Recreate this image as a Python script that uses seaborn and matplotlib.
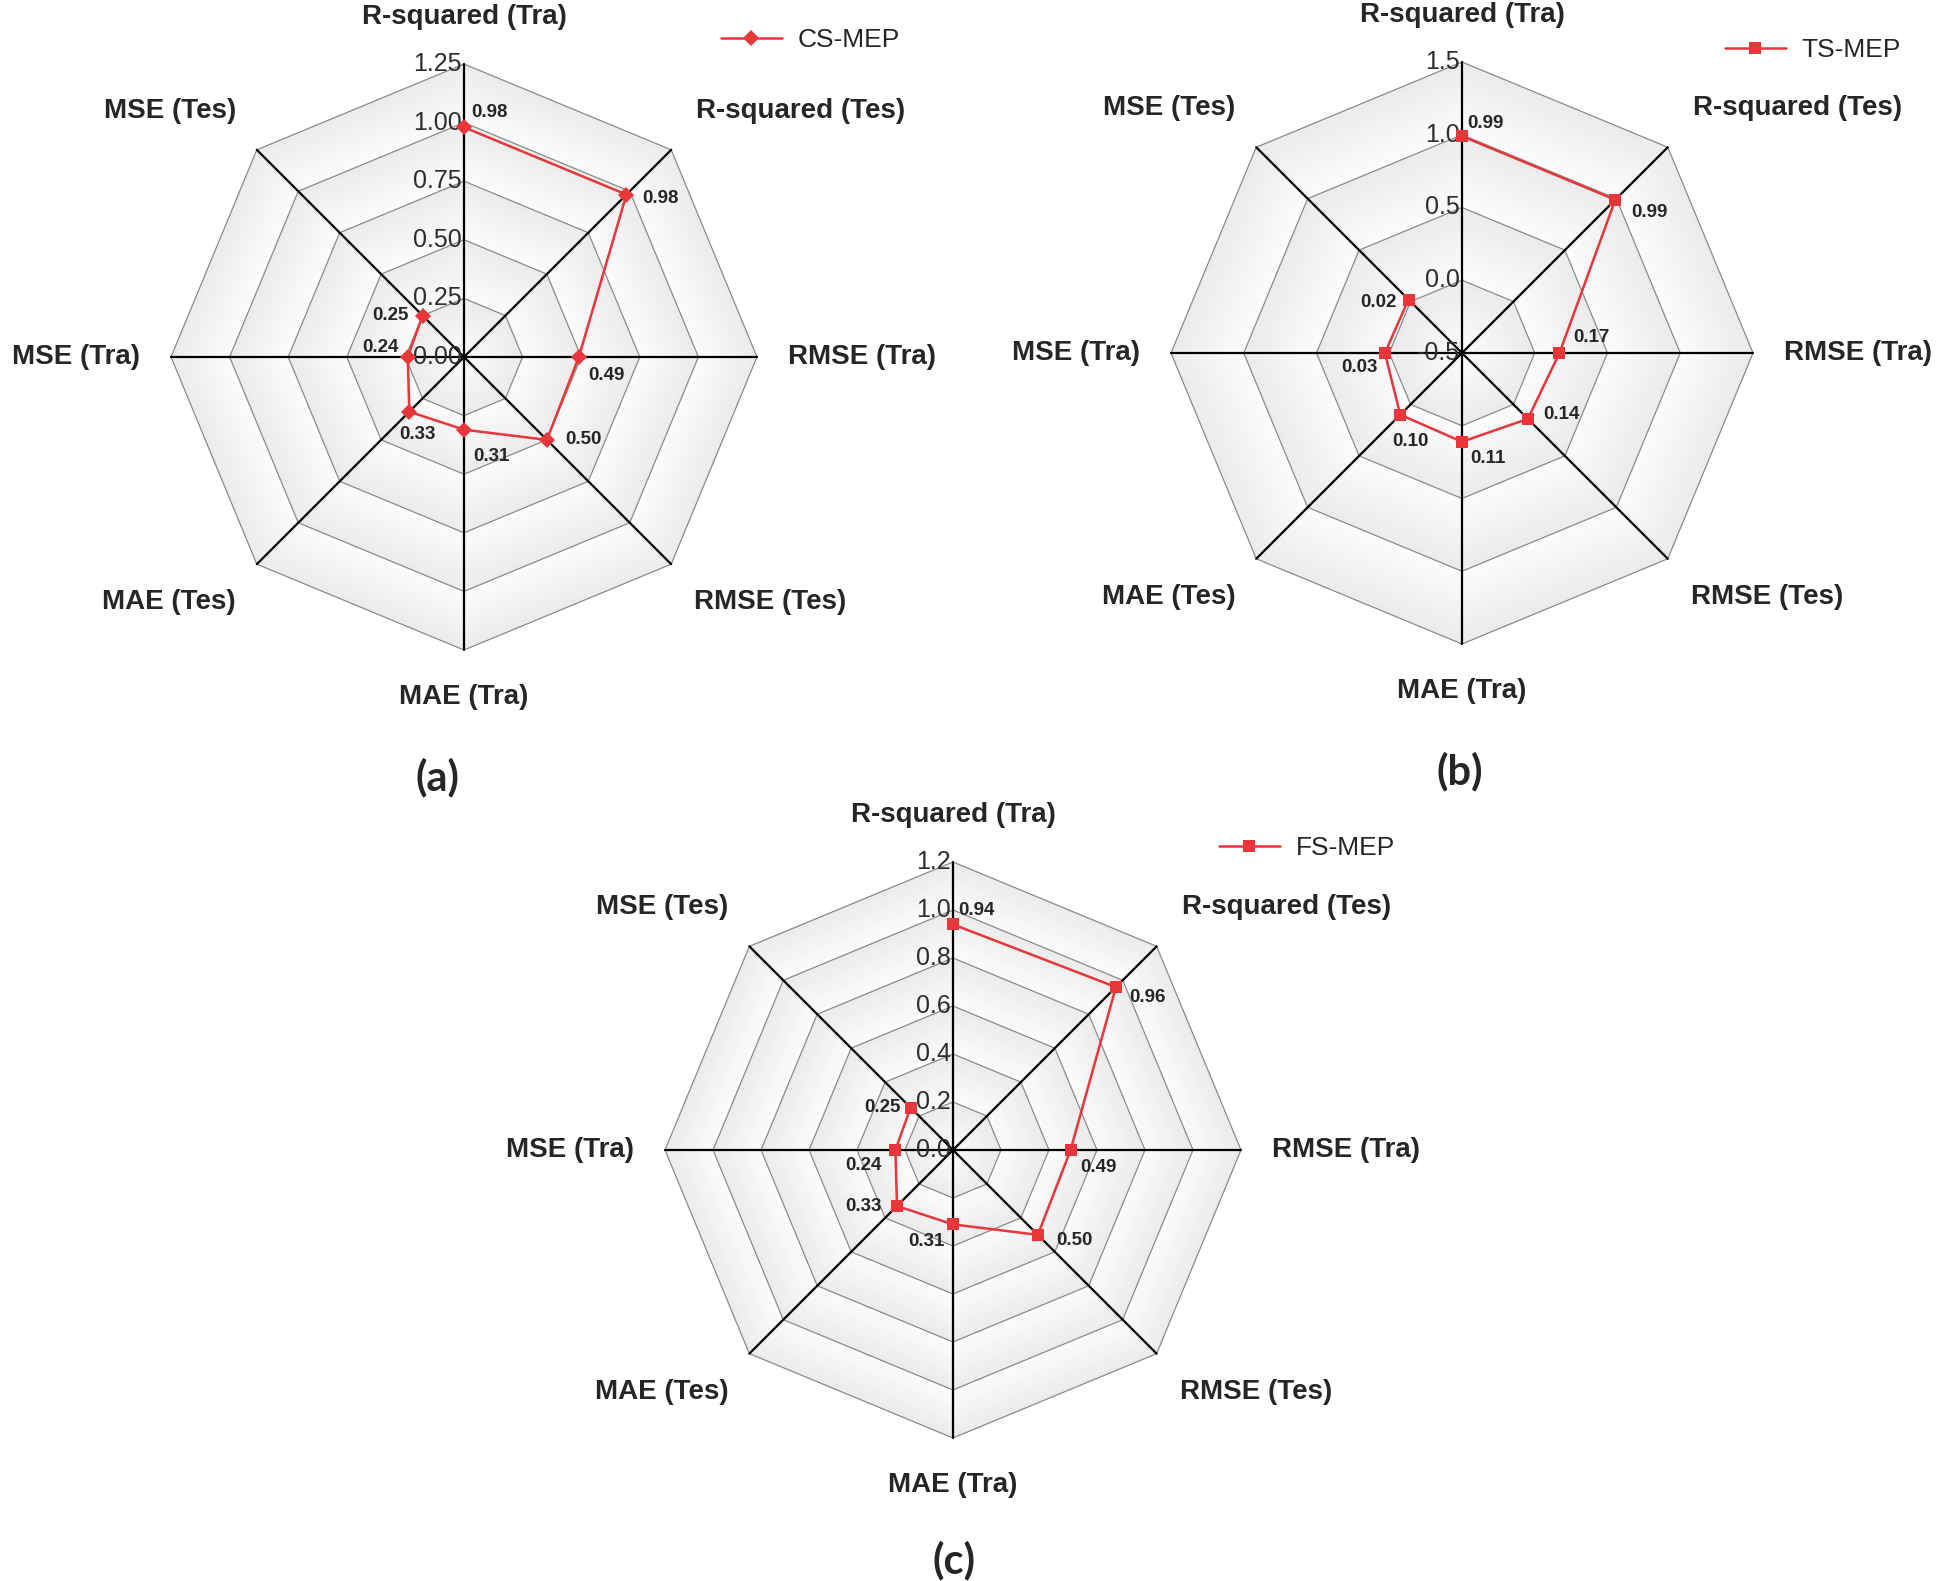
import numpy as np
import matplotlib
matplotlib.use("Agg")
import matplotlib.pyplot as plt
import matplotlib.colors as mcolors
import seaborn as sns

metrics = ["R-squared (Tra)", "R-squared (Tes)", "RMSE (Tra)", "RMSE (Tes)",
           "MAE (Tra)", "MAE (Tes)", "MSE (Tra)", "MSE (Tes)"]
cs_mep = [0.98, 0.98, 0.49, 0.50, 0.31, 0.33, 0.24, 0.25]
ts_mep = [0.99, 0.99, 0.17, 0.14, 0.11, 0.10, 0.03, 0.02]
fs_mep = [0.94, 0.96, 0.49, 0.50, 0.31, 0.33, 0.24, 0.25]
cs_ticks = [0.0, 0.25, 0.5, 0.75, 1.0, 1.25]
ts_ticks = [-0.5, 0.0, 0.5, 1.0, 1.5]
fs_ticks = [0.0, 0.2, 0.4, 0.6, 0.8, 1.0, 1.2]

sns.set_style("white")
plt.rcParams["font.family"] = ["Liberation Sans", "DejaVu Sans"]

W, H = 1950, 1581
fig = plt.figure(figsize=(W / 100, H / 100), dpi=100)

RED = "#e8363b"
angles = np.deg2rad(np.arange(8) * 45)

# where the axis names sit, pixels from the outer vertex
label_pos = [(0, 47, "center"), (25, 39, "left"), (31, 0, "left"), (23, -38, "left"),
             (0, -47, "center"), (-21, -38, "right"), (-31, 0, "right"), (-21, 39, "right")]

cs_off = [(7, 15, "left"), (16, -4, "left"), (9, -18, "left"), (18, 0, "left"),
          (9, -27, "left"), (8, -23, "center"), (-9, 10, "right"), (-14, 0, "right")]
ts_off = [(5, 13, "left"), (16, -13, "left"), (14, 16, "left"), (15, 4, "left"),
          (8, -17, "left"), (10, -27, "center"), (-7, -15, "right"), (-12, -3, "right")]
fs_off = [(5, 14, "left"), (13, -10, "left"), (10, -18, "left"), (18, -6, "left"),
          (-8, -17, "right"), (-15, 0, "right"), (-14, -15, "right"), (-10, 0, "right")]


def radar(cx, cy, R, values, ticks, fmt, name, marker, ms, val_off, leg_xy):
    ax = fig.add_axes([(cx - R) / W, 1 - (cy + R) / H, 2 * R / W, 2 * R / H],
                      projection="polar")
    ax.set_theta_zero_location("N")
    ax.set_theta_direction(-1)
    rmin, rmax = ticks[0], ticks[-1]
    ax.set_ylim(rmin, rmax)
    ax.grid(False)
    ax.set_xticks([])
    ax.set_yticks([])
    ax.spines["polar"].set_visible(False)
    ax.patch.set_alpha(0)

    ring_t = np.append(angles, angles[0])
    # shaded bands, slightly darker towards the outer edge of each band
    c_out = np.array(mcolors.to_rgb("#ececec"))
    c_in = np.array(mcolors.to_rgb("#fbfbfb"))
    n_sub = 10
    for r_out, r_in in zip(ticks[:0:-1], ticks[-2::-1]):
        for s in range(n_sub):
            r = r_out - (r_out - r_in) * s / n_sub
            c = c_out + (c_in - c_out) * s / (n_sub - 1)
            ax.fill(ring_t, [r] * 9, color=c, lw=0, zorder=0)
    for t in ticks[1:]:
        ax.plot(ring_t, [t] * 9, color="#8a8a8a", lw=0.9, zorder=1, clip_on=False)
    for a in angles:
        ax.plot([a, a], [rmin, rmax], color="black", lw=1.6, zorder=2, clip_on=False)

    th = np.append(angles, angles[0])
    vals = list(values) + [values[0]]
    sns.lineplot(x=th, y=vals, sort=False, errorbar=None, color=RED, lw=1.8,
                 marker=marker, markersize=ms, markeredgewidth=0, ax=ax, zorder=5)
    line = ax.lines[-1]
    line.set_clip_on(False)
    ax.set_xlabel("")
    ax.set_ylabel("")

    for t in ticks:
        ax.annotate(fmt.format(t), xy=(0, t), xytext=(-2, 0), textcoords="offset pixels",
                    ha="right", va="center", fontsize=18, color="#2e2e2e", zorder=4)
    for a, lab, (dx, dy, ha) in zip(angles, metrics, label_pos):
        ax.annotate(lab, xy=(a, rmax), xytext=(dx, dy), textcoords="offset pixels",
                    ha=ha, va="center", fontsize=20, fontweight="bold",
                    annotation_clip=False)
    for a, v, (dx, dy, ha) in zip(angles, values, val_off):
        ax.annotate(f"{v:.2f}", xy=(a, v), xytext=(dx, dy), textcoords="offset pixels",
                    ha=ha, va="center", fontsize=13.5, fontweight="bold", zorder=6)

    lx, ly = leg_xy
    ax.legend([line], [name], loc="center left", bbox_to_anchor=(lx / W, 1 - ly / H),
              bbox_transform=fig.transFigure, frameon=False, fontsize=19,
              handlelength=2.3, handletextpad=0.6, borderpad=0, borderaxespad=0)
    return ax


radar(464, 357, 293, cs_mep, cs_ticks, "{:.2f}", "CS-MEP", "D", 8, cs_off, (721, 40))
radar(1462, 353, 291, ts_mep, ts_ticks, "{:.1f}", "TS-MEP", "s", 8.5, ts_off, (1725, 50))
radar(953, 1150, 288, fs_mep, fs_ticks, "{:.1f}", "FS-MEP", "s", 8.5, fs_off, (1219, 848))

for txt, x, y in [("(a)", 437, 777), ("(b)", 1460, 771), ("(c)", 954, 1560)]:
    fig.text(x / W, 1 - y / H, txt, ha="center", va="center", fontsize=30,
             fontweight="bold", family=["Lato", "DejaVu Sans"])

fig.savefig("out.png", dpi=100, facecolor="white")
